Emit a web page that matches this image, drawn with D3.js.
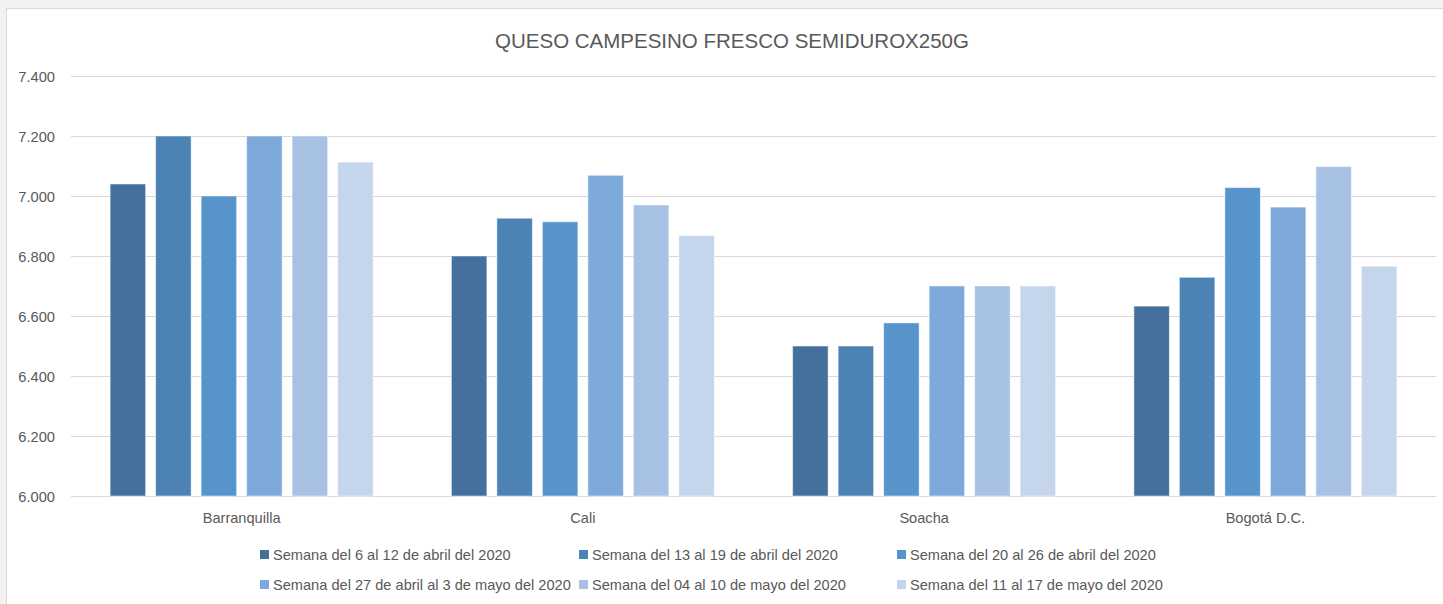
<!DOCTYPE html>
<html>
<head>
<meta charset="utf-8">
<script src="https://cdn.jsdelivr.net/npm/d3@7"></script>
<style>
  body { margin: 0; background: #f2f2f2; }
  svg { display: block; font-family: "Liberation Sans", Arial, sans-serif; }
</style>
</head>
<body>
<svg id="chart" width="1443" height="604"></svg>
<script>
// Queso campesino - precios por ciudad y semana
const cities = ['Barranquilla', 'Cali', 'Soacha', 'Bogotá D.C.'];
const weeks = [
    'Semana del 6 al 12 de abril del 2020',
    'Semana del 13 al 19 de abril del 2020',
    'Semana del 20 al 26 de abril del 2020',
    'Semana del 27 de abril al 3 de mayo del 2020',
    'Semana del 04 al 10 de mayo del 2020',
    'Semana del 11 al 17 de mayo del 2020'
];
const barranquilla = [7040, 7200, 7000, 7200, 7200, 7113];
const cali = [6800, 6926, 6914, 7069, 6970, 6868];
const soacha = [6500, 6500, 6577, 6700, 6700, 6700];
const bogota = [6633, 6729, 7028, 6963, 7098, 6766];
const yTicks = [6000, 6200, 6400, 6600, 6800, 7000, 7200, 7400];
const colors = ['#43709d', '#4c82b4', '#5794cb', '#7daada', '#a6c1e4', '#c5d5eb'];

const values = [barranquilla, cali, soacha, bogota];

const svg = d3.select('#chart');

// chart area
svg.append('rect')
    .attr('x', 6.5).attr('y', 8.5)
    .attr('width', 1450).attr('height', 610)
    .attr('fill', '#fff').attr('stroke', '#d9d9d9');

const plotLeft = 71, plotRight = 1436, plotTop = 76, plotBottom = 496;

const y = d3.scaleLinear().domain([6000, 7400]).range([plotBottom, plotTop]);
const x0 = d3.scaleBand().domain(cities).range([plotLeft, plotRight]);
const groupPad = (x0.bandwidth() - 263) / 2;
const x1 = d3.scaleBand().domain(weeks)
    .range([groupPad, x0.bandwidth() - groupPad])
    .paddingInner(0.22).paddingOuter(0);
const color = d3.scaleOrdinal().domain(weeks).range(colors);

// title
svg.append('text')
    .attr('x', 732).attr('y', 47.5)
    .attr('text-anchor', 'middle')
    .attr('font-size', 20.5)
    .attr('fill', '#595959')
    .text('QUESO CAMPESINO FRESCO SEMIDUROX250G');

// gridlines
svg.append('g').selectAll('line')
    .data(yTicks)
    .enter().append('line')
    .attr('x1', plotLeft).attr('x2', plotRight)
    .attr('y1', d => Math.round(y(d)) + 0.5)
    .attr('y2', d => Math.round(y(d)) + 0.5)
    .attr('stroke', '#d9d9d9').attr('stroke-width', 1);

// y labels
svg.append('g').selectAll('text')
    .data(yTicks)
    .enter().append('text')
    .attr('x', 55).attr('y', d => y(d) + 5.5)
    .attr('text-anchor', 'end')
    .attr('font-size', 14.7)
    .attr('fill', '#595959')
    .text(d => d3.format(',.3f')(d / 1000).replace(',', ''));

// bars
const groups = svg.append('g').selectAll('g')
    .data(cities)
    .enter().append('g')
    .attr('transform', d => `translate(${x0(d)},0)`);

groups.selectAll('rect')
    .data((c, i) => weeks.map((w, j) => ({ week: w, value: values[i][j] })))
    .enter().append('rect')
    .attr('x', d => x1(d.week))
    .attr('y', d => y(d.value))
    .attr('width', x1.bandwidth())
    .attr('height', d => plotBottom - y(d.value))
    .attr('fill', d => color(d.week))
    .attr('stroke', '#fff').attr('stroke-opacity', 0.5).attr('stroke-width', 1);

// x labels
svg.append('g').selectAll('text')
    .data(cities)
    .enter().append('text')
    .attr('x', d => x0(d) + x0.bandwidth() / 2)
    .attr('y', 522.5)
    .attr('text-anchor', 'middle')
    .attr('font-size', 14.6)
    .attr('fill', '#595959')
    .text(d => d);

// legend
const legendCols = [260, 579, 897];
const legendRows = [554.5, 584.5];
const legend = svg.append('g').selectAll('g')
    .data(weeks)
    .enter().append('g')
    .attr('transform', (d, i) => `translate(${legendCols[i % 3]},${legendRows[Math.floor(i / 3)]})`);

legend.append('rect')
    .attr('x', 0).attr('y', -4.5)
    .attr('width', 9).attr('height', 9)
    .attr('fill', d => color(d));

legend.append('text')
    .attr('x', 13).attr('y', 5)
    .attr('font-size', 14.6)
    .attr('fill', '#595959')
    .text(d => d);
</script>
</body>
</html>
